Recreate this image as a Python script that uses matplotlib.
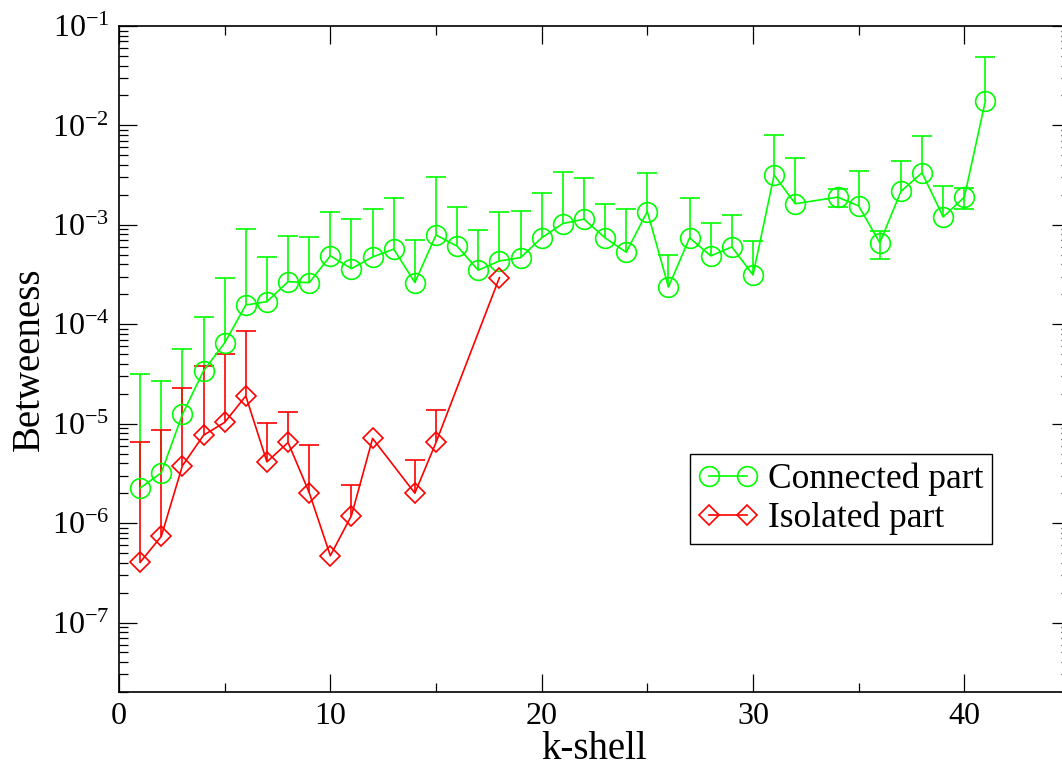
import numpy as np
import matplotlib
matplotlib.use("Agg")
import matplotlib.pyplot as plt
from matplotlib.ticker import MultipleLocator, LogLocator, FuncFormatter, NullFormatter

plt.rcParams["font.family"] = ["Liberation Serif", "DejaVu Serif"]
plt.rcParams["mathtext.fontset"] = "custom"
plt.rcParams["mathtext.rm"] = "Liberation Serif"
plt.rcParams["mathtext.it"] = "Liberation Serif:italic"

GREEN = "#00ff00"
RED = "#ff0000"

# Connected part: mean betweenness per k-shell and its standard deviation
k_conn = [1, 2, 3, 4, 5, 6, 7, 8, 9, 10, 11, 12, 13, 14, 15, 16, 17, 18, 19, 20,
          21, 22, 23, 24, 25, 26, 27, 28, 29, 30, 31, 32, 34, 35, 36, 37, 38, 39, 40, 41]
bet_conn = [2.25e-6, 3.2e-6, 1.24e-5, 3.4e-5, 6.5e-5, 1.56e-4, 1.69e-4, 2.68e-4, 2.62e-4, 4.87e-4,
            3.63e-4, 4.75e-4, 5.7e-4, 2.63e-4, 7.9e-4, 6.1e-4, 3.5e-4, 4.33e-4, 4.68e-4, 7.4e-4,
            1.03e-3, 1.14e-3, 7.4e-4, 5.3e-4, 1.36e-3, 2.37e-4, 7.4e-4, 4.87e-4, 6.0e-4, 3.13e-4,
            3.17e-3, 1.63e-3, 1.9e-3, 1.55e-3, 6.6e-4, 2.17e-3, 3.34e-3, 1.2e-3, 1.9e-3, 1.78e-2]
err_conn = [2.97e-5, 2.38e-5, 4.46e-5, 8.5e-5, 2.25e-4, 7.44e-4, 3.06e-4, 5.12e-4, 4.88e-4, 8.63e-4,
            7.87e-4, 9.55e-4, 1.30e-3, 4.37e-4, 2.21e-3, 8.9e-4, 5.45e-4, 9.27e-4, 9.02e-4, 1.33e-3,
            2.37e-3, 1.82e-3, 8.9e-4, 9.0e-4, 1.94e-3, 2.63e-4, 1.11e-3, 5.63e-4, 6.6e-4, 3.67e-4,
            4.83e-3, 3.07e-3, 3.8e-4, 1.95e-3, 2.1e-4, 2.2e-3, 4.56e-3, 1.28e-3, 4.6e-4, 3.08e-2]

# Isolated part
k_iso = [1, 2, 3, 4, 5, 6, 7, 8, 9, 10, 11, 12, 14, 15, 18]
bet_iso = [4.03e-7, 7.35e-7, 3.77e-6, 7.65e-6, 1.03e-5, 1.9e-5, 4.13e-6, 6.47e-6, 2.03e-6, 4.7e-7,
           1.19e-6, 7.1e-6, 2.0e-6, 6.47e-6, 2.94e-4]
err_iso = [6.2e-6, 7.97e-6, 1.91e-5, 3.04e-5, 3.97e-5, 6.6e-5, 5.97e-6, 6.73e-6, 4.07e-6, 0.0,
           1.22e-6, 0.0, 2.3e-6, 7.23e-6, 0.0]

fig = plt.figure(figsize=(10.62, 7.68), dpi=100)
ax = fig.add_axes([0.11205, 0.09896, 0.89548, 0.86719])
ax.set_yscale("log")

LW = 1.2


def draw_series(k, b, e, color, marker, ms, label):
    k = np.asarray(k, float)
    b = np.asarray(b, float)
    e = np.asarray(e, float)
    line, = ax.plot(k, b, color=color, lw=LW, marker=marker, ms=ms, mfc="none",
                    mec=color, mew=LW, label=label, zorder=3)
    has_err = e > 0
    # upper half of the error bars
    up = ax.errorbar(k[has_err], b[has_err],
                     yerr=[np.zeros(has_err.sum()), e[has_err]],
                     fmt="none", ecolor=color, elinewidth=LW, capsize=7,
                     capthick=LW, zorder=2)
    up.lines[1][0].set_visible(False)
    # lower half only where it stays positive on the log axis
    below = has_err & (b - e > 0)
    if below.any():
        dn = ax.errorbar(k[below], b[below],
                         yerr=[e[below], np.zeros(below.sum())],
                         fmt="none", ecolor=color, elinewidth=LW, capsize=7,
                         capthick=LW, zorder=2)
        dn.lines[1][1].set_visible(False)
    return line


h_conn = draw_series(k_conn, bet_conn, err_conn, GREEN, "o", 14.2, "Connected part")
h_iso = draw_series(k_iso, bet_iso, err_iso, RED, "D", 10.0, "Isolated part")

ax.set_xlim(0, 45)
ax.set_ylim(2e-8, 1e-1)

ax.xaxis.set_major_locator(MultipleLocator(10))
ax.xaxis.set_minor_locator(MultipleLocator(5))
ax.yaxis.set_major_locator(LogLocator(base=10, numticks=30))
ax.yaxis.set_minor_locator(LogLocator(base=10, subs=np.arange(2, 10), numticks=30))
ax.yaxis.set_minor_formatter(NullFormatter())
ax.yaxis.set_major_formatter(
    FuncFormatter(lambda v, p: r"$\mathregular{10^{%d}}$" % int(round(np.log10(v)))))

ax.tick_params(which="both", direction="in", top=True, right=True, width=0.9,
               labelsize=23)
ax.tick_params(which="major", length=13)
ax.tick_params(which="minor", length=6.5)
ax.tick_params(axis="x", pad=7)
ax.tick_params(axis="y", pad=7)

for sp in ax.spines.values():
    sp.set_linewidth(1.2)

ax.set_xlabel("k-shell", fontsize=28, labelpad=0)
ax.set_ylabel("Betweeness", fontsize=28, labelpad=3)

leg = ax.legend(handles=[h_conn, h_iso], loc="upper left",
                bbox_to_anchor=(690 / 1062, 1 - 454 / 768),
                bbox_transform=fig.transFigure, fontsize=25.5, numpoints=2,
                handlelength=1.66, handletextpad=0.28, borderpad=0.25,
                labelspacing=0.15, borderaxespad=0, frameon=True, fancybox=False,
                edgecolor="black", framealpha=1)
leg.get_frame().set_linewidth(1.0)

fig.savefig("out.png", dpi=100)
